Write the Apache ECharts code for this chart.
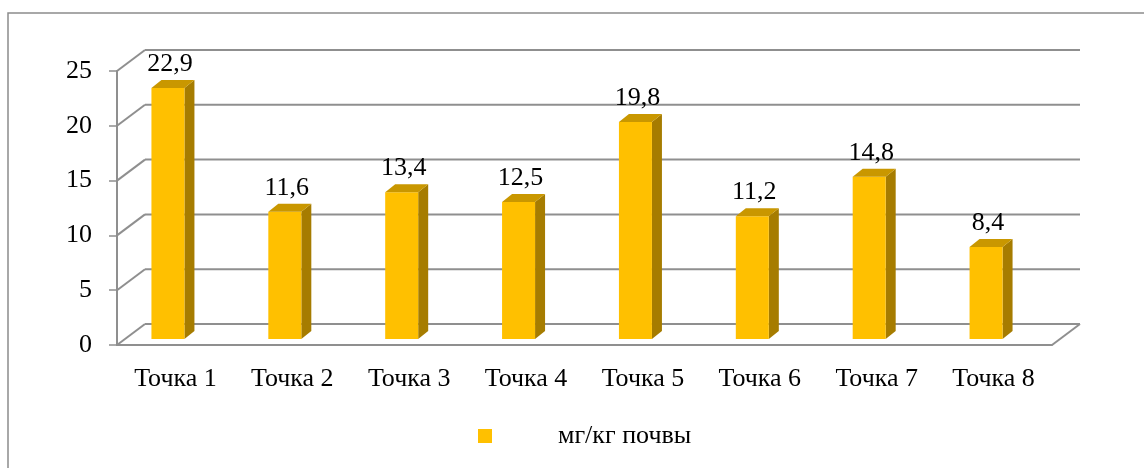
<!DOCTYPE html>
<html>
<head>
<meta charset="utf-8">
<script src="https://cdn.jsdelivr.net/npm/echarts@6/dist/echarts.min.js"></script>
<style>
  html, body { margin: 0; padding: 0; background: #fff; }
  #chart { width: 1144px; height: 468px; }
</style>
</head>
<body>
<div id="chart"></div>
<script>
var categories = ['Точка 1', 'Точка 2', 'Точка 3', 'Точка 4', 'Точка 5', 'Точка 6', 'Точка 7', 'Точка 8'];
var values = [22.9, 11.6, 13.4, 12.5, 19.8, 11.2, 14.8, 8.4];
var valueTicks = [0, 5, 10, 15, 20, 25];
var seriesName = 'мг/кг почвы';

var myChart = echarts.init(document.getElementById('chart'));

// oblique 3d offsets (px)
var wallDx = 28, wallDy = -21;   // back wall
var barDx = 8, barDy = -6;       // plane of bar front faces
var depthDx = 10, depthDy = -8;  // bar depth
var gridColor = '#8f8f8f';
var fontFamily = '"Liberation Serif", "Times New Roman", serif';
var fontSize = 26;

function frameItem(params, api) {
    var cs = params.coordSys;
    var v = api.value(1);
    var p = api.coord([0, v]);
    var y = p[1];
    var left = cs.x, right = cs.x + cs.width;
    var lineStyle = { stroke: gridColor, lineWidth: 2 };
    var children = [
        { type: 'line', shape: { x1: left, y1: y, x2: left + wallDx, y2: y + wallDy }, style: lineStyle },
        { type: 'line', shape: { x1: left + wallDx, y1: y + wallDy, x2: right + wallDx, y2: y + wallDy }, style: lineStyle }
    ];
    if (v === 0) {
        children.push({ type: 'line', shape: { x1: right, y1: y, x2: right + wallDx, y2: y + wallDy }, style: lineStyle });
    }
    return { type: 'group', children: children };
}

function barItem(params, api) {
    var i = api.value(0);
    var v = api.value(1);
    var top = api.coord([i, v]);
    var base = api.coord([i, 0]);
    var x0 = top[0] - 24 + barDx - 8;
    var x1 = x0 + 33;
    var yt = top[1] + barDy;
    var yb = base[1] + barDy;
    return {
        type: 'group',
        children: [
            { type: 'polygon', shape: { points: [[x1, yt], [x1 + depthDx, yt + depthDy], [x1 + depthDx, yb + depthDy], [x1, yb]] },
              style: { fill: '#a67c00' } },
            { type: 'rect', shape: { x: x0, y: yt, width: x1 - x0, height: yb - yt },
              style: { fill: '#ffc000' } },
            { type: 'polygon', shape: { points: [[x0, yt], [x1, yt], [x1 + depthDx, yt + depthDy], [x0 + depthDx, yt + depthDy]] },
              style: { fill: '#c99700' } },
            { type: 'text', x: (x0 + x1) / 2 + 2, y: yt + depthDy - 3,
              style: { text: String(v).replace('.', ','), fill: '#000', font: fontSize + 'px ' + fontFamily,
                       align: 'center', verticalAlign: 'bottom' } }
        ]
    };
}

var frameData = valueTicks.map(function (t) { return [0, t]; });
var barData = values.map(function (v, i) { return [i, v]; });

var option = {
    animation: false,
    backgroundColor: '#fff',
    graphic: [{
        type: 'rect', z: -10, silent: true,
        shape: { x: 8, y: 13, width: 1300, height: 600 },
        style: { fill: 'none', stroke: '#8c8c8c', lineWidth: 1.5 }
    }],
    grid: { left: 117, right: 92, top: 71, bottom: 123 },
    legend: {
        data: [{ name: seriesName, icon: 'rect' }],
        left: 478, top: 423, padding: 0,
        itemWidth: 14, itemHeight: 14,
        textStyle: { fontFamily: fontFamily, fontSize: fontSize, color: '#000', padding: [0, 0, 0, 61] }
    },
    xAxis: {
        type: 'category',
        data: categories,
        boundaryGap: true,
        axisLine: { lineStyle: { color: gridColor, width: 2 } },
        axisTick: { length: 8, lineStyle: { color: gridColor, width: 1.5 } },
        axisLabel: { color: '#000', fontFamily: fontFamily, fontSize: fontSize, margin: 21 },
        splitLine: { show: false }
    },
    yAxis: {
        type: 'value',
        min: 0, max: 25, interval: 5,
        axisLine: { show: true, lineStyle: { color: gridColor, width: 2 } },
        axisTick: { show: true, length: 8, lineStyle: { color: gridColor, width: 1.5 } },
        axisLabel: { color: '#000', fontFamily: fontFamily, fontSize: fontSize, margin: 25 },
        splitLine: { show: false }
    },
    series: [
        {
            type: 'custom', name: 'frame', silent: true, clip: false, z: 1,
            renderItem: frameItem, data: frameData
        },
        {
            type: 'custom', name: seriesName, clip: false, z: 5,
            itemStyle: { color: '#ffc000' },
            renderItem: barItem, data: barData
        }
    ]
};

myChart.setOption(option);
</script>
</body>
</html>
